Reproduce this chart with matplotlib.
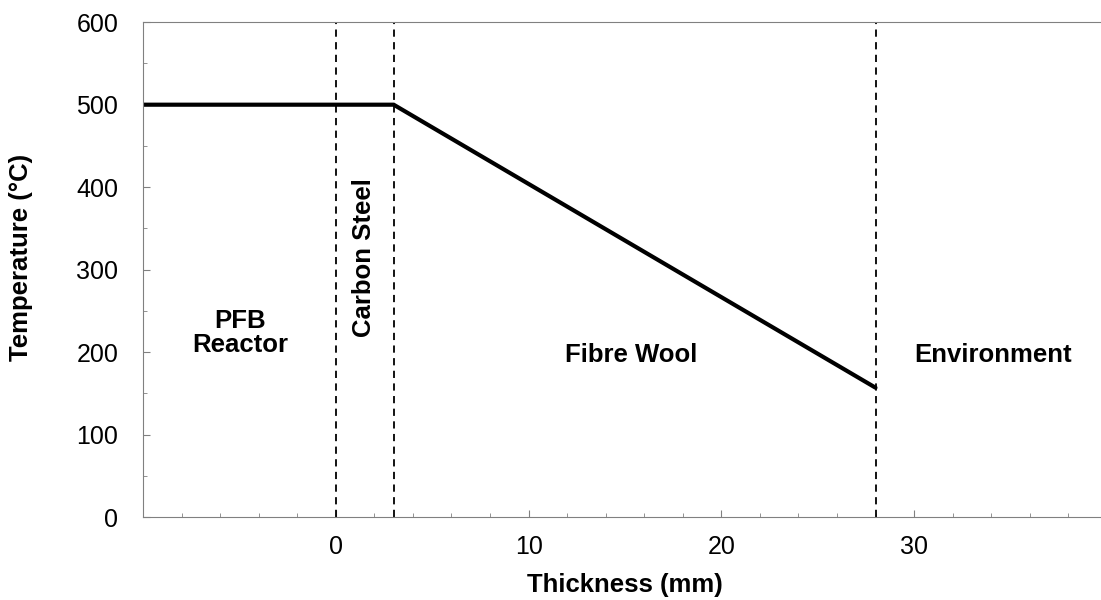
import matplotlib.pyplot as plt
import numpy as np

plt.rcParams['font.family'] = ['Liberation Sans', 'DejaVu Sans']

# temperature profile through the wall
thickness = [-10, 3, 28]
temperature = [500, 500, 157]

# layer boundaries (mm)
boundaries = [0, 3, 28]

regions = ['PFB\nReactor', 'Carbon Steel', 'Fibre Wool', 'Environment']
region_x = [-4.95, 1.45, 15.3, 34.1]
region_y = [223, 315, 197, 197]
region_rot = [0, 90, 0, 0]

fig = plt.figure(figsize=(11.01, 6), dpi=100)
ax = fig.add_axes([0.130, 0.138, 0.870, 0.825])

for b in boundaries:
    ax.plot([b, b], [0, 600], color='black', lw=1.3, ls=(0, (4, 3)))

ax.plot(thickness, temperature, color='black', lw=3,
        solid_capstyle='round', solid_joinstyle='miter')

for txt, x, y, r in zip(regions, region_x, region_y, region_rot):
    ax.text(x, y, txt, ha='center', va='center', rotation=r,
            fontsize=18.5, fontweight='bold', linespacing=1.0)

ax.set_xlim(-10, 39.7)
ax.set_ylim(0, 600)
ax.set_xticks([0, 10, 20, 30])
ax.set_xticks(np.arange(-8, 40, 2), minor=True)
ax.set_yticks(np.arange(0, 601, 100))
ax.set_yticks(np.arange(50, 600, 100), minor=True)
ax.tick_params(which='both', direction='in', color='#808080', labelsize=18)
ax.tick_params(axis='x', which='major', length=5, pad=13)
ax.tick_params(axis='x', which='minor', length=3)
ax.tick_params(axis='y', which='major', length=5, pad=18)
ax.tick_params(axis='y', which='minor', length=3)
for s in ['left', 'bottom', 'top']:
    ax.spines[s].set_color('#808080')
ax.spines['right'].set_visible(False)

ax.set_xlabel('Thickness (mm)', fontsize=18.5, fontweight='bold')
ax.set_ylabel('Temperature (°C)', fontsize=18.5, fontweight='bold')
ax.xaxis.set_label_coords(0.503, -0.112)
ax.yaxis.set_label_coords(-0.115, 0.525)

fig.savefig('out.png', dpi=100)
